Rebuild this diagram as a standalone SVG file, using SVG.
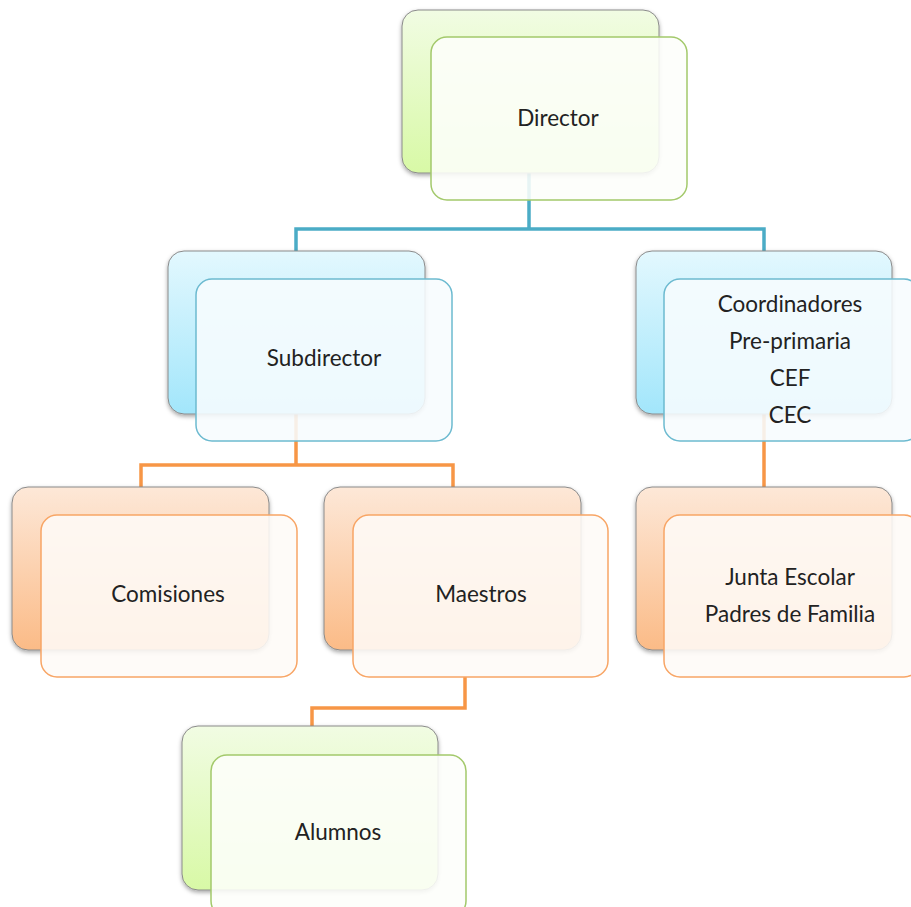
<svg xmlns="http://www.w3.org/2000/svg" width="911" height="907" viewBox="0 0 911 907">
<defs>
<linearGradient id="gG" x1="0" y1="0" x2="0" y2="1"><stop offset="0" stop-color="#f1fce3"/><stop offset="1" stop-color="#d8f9a6"/></linearGradient>
<linearGradient id="gB" x1="0" y1="0" x2="0" y2="1"><stop offset="0" stop-color="#e3f8fe"/><stop offset="1" stop-color="#a2e6fb"/></linearGradient>
<linearGradient id="gO" x1="0" y1="0" x2="0" y2="1"><stop offset="0" stop-color="#fde8d8"/><stop offset="1" stop-color="#fbbb87"/></linearGradient>
<filter id="sh" x="-10%" y="-10%" width="125%" height="130%"><feDropShadow dx="0" dy="2" stdDeviation="2" flood-color="#000" flood-opacity="0.35"/></filter>
</defs>
<style>
.back{stroke:#8a8a8a;stroke-width:1;filter:url(#sh)}
.front{stroke-width:1.5}
.fg{fill:#fdfefb;fill-opacity:0.88;stroke:#a3c96b}
.fb{fill:#f7fcfe;fill-opacity:0.88;stroke:#6cbad0}
.fo{fill:#fefaf7;fill-opacity:0.88;stroke:#f8a565}
.c{fill:none;stroke-width:3.5}
.cb{stroke:#4bacc6}
.co{stroke:#f79646}
text{font-family:Lato,"Open Sans","Liberation Sans",sans-serif;font-size:22.5px;fill:#222;text-anchor:middle;dominant-baseline:central}
</style>
<rect width="911" height="907" fill="#fff"/>
<g id="connectors">
<path class="c cb" d="M529,172 V229 M296,251 V229 H764 V251"/>
<path class="c co" d="M296,414 V465 M141,487 V465 H453 V487"/>
<path class="c co" d="M764,414 V487"/>
<path class="c co" d="M465,677 V708 H312 V727"/>
</g>
<g id="director">
<rect class="back" x="402" y="10" width="257" height="163" rx="16" fill="url(#gG)"/>
<rect class="front fg" x="431" y="37" width="256" height="163" rx="16"/>
<text x="558" y="117">Director</text>
</g>
<g id="subdirector">
<rect class="back" x="168" y="251" width="257" height="163" rx="16" fill="url(#gB)"/>
<rect class="front fb" x="196" y="279" width="256" height="162" rx="16"/>
<text x="324" y="357">Subdirector</text>
</g>
<g id="coordinadores">
<rect class="back" x="636" y="251" width="256" height="163" rx="16" fill="url(#gB)"/>
<rect class="front fb" x="664" y="279" width="256" height="162" rx="16"/>
<text x="790" y="303">Coordinadores</text>
<text x="790" y="340">Pre-primaria</text>
<text x="790" y="377">CEF</text>
<text x="790" y="414">CEC</text>
</g>
<g id="comisiones">
<rect class="back" x="12" y="487" width="257" height="163" rx="16" fill="url(#gO)"/>
<rect class="front fo" x="41" y="515" width="256" height="162" rx="16"/>
<text x="168" y="593">Comisiones</text>
</g>
<g id="maestros">
<rect class="back" x="324" y="487" width="257" height="163" rx="16" fill="url(#gO)"/>
<rect class="front fo" x="353" y="515" width="255" height="162" rx="16"/>
<text x="481" y="593">Maestros</text>
</g>
<g id="junta">
<rect class="back" x="636" y="487" width="256" height="163" rx="16" fill="url(#gO)"/>
<rect class="front fo" x="664" y="515" width="256" height="162" rx="16"/>
<text x="790" y="576">Junta Escolar</text>
<text x="790" y="613">Padres de Familia</text>
</g>
<g id="alumnos">
<rect class="back" x="182" y="726" width="256" height="164" rx="16" fill="url(#gG)"/>
<rect class="front fg" x="211" y="755" width="255" height="162" rx="16"/>
<text x="338" y="831">Alumnos</text>
</g>
</svg>
